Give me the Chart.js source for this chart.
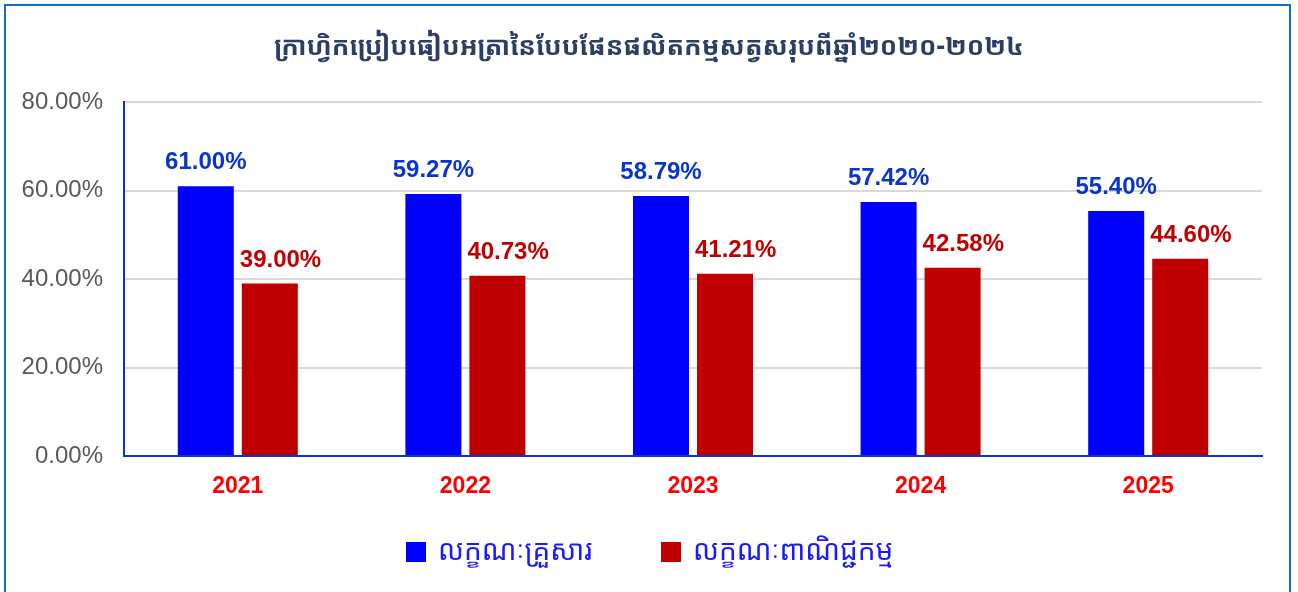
<!DOCTYPE html>
<html>
<head>
<meta charset="utf-8">
<script src="https://cdn.jsdelivr.net/npm/chart.js@4.4.1/dist/chart.umd.min.js"></script>
<style>
  html, body { margin: 0; padding: 0; background: #fff; }
  #wrap { position: relative; width: 1298px; height: 592px; overflow: hidden; }
  #frame { position: absolute; left: 4px; top: 4px; width: 1283px; height: 640px; border: 2px solid #1070c8; pointer-events: none; }
  canvas { position: absolute; left: 0; top: 0; }
</style>
</head>
<body>
<div id="wrap">
  <canvas id="chart" width="1298" height="592"></canvas>
  <div id="frame"></div>
</div>
<script>
const years = ['2021', '2022', '2023', '2024', '2025'];
const familyValues = [61.00, 59.27, 58.79, 57.42, 55.40];
const commercialValues = [39.00, 40.73, 41.21, 42.58, 44.60];
const seriesNames = ['លក្ខណៈគ្រួសារ', 'លក្ខណៈពាណិជ្ជកម្ម'];
const chartTitle = 'ក្រាហ្វិកប្រៀបធៀបអត្រានៃបែបផែនផលិតកម្មសត្វសរុបពីឆ្នាំ២០២០-២០២៤';
const yTicks = [0, 20, 40, 60, 80];

const khmerFont = '"Khmer OS Battambang", "Khmer OS", "Noto Sans Khmer", "Noto Serif Khmer", "Khmer OS System", sans-serif';
const latinFont = '"Liberation Sans", Arial, sans-serif';

// value labels above each bar
const barLabels = {
  id: 'barLabels',
  afterDatasetsDraw(chart) {
    const ctx = chart.ctx;
    ctx.save();
    ctx.textBaseline = 'alphabetic';
    ctx.font = 'bold 24px ' + latinFont;
    chart.data.datasets.forEach((ds, i) => {
      const meta = chart.getDatasetMeta(i);
      ctx.fillStyle = ds.labelColor;
      meta.data.forEach((bar, j) => {
        const txt = ds.data[j].toFixed(2) + '%';
        if (i === 0) {
          ctx.textAlign = 'center';
          ctx.fillText(txt, bar.x, bar.y - 17);
        } else {
          // second series label starts at the bar's left edge
          ctx.textAlign = 'left';
          ctx.fillText(txt, bar.x - bar.width / 2 - 2, bar.y - 17);
        }
      });
    });
    ctx.restore();
  }
};

// legend drawn under the axis
const bottomLegend = {
  id: 'bottomLegend',
  afterDraw(chart) {
    const ctx = chart.ctx;
    const box = 20, gap = 12;
    const mid = chart.width / 2;
    const starts = [mid - 243, mid + 12];
    const cy = 552;
    ctx.save();
    ctx.font = '28px ' + khmerFont;
    ctx.textBaseline = 'middle';
    chart.data.datasets.forEach((ds, i) => {
      const x = starts[i];
      ctx.fillStyle = ds.backgroundColor;
      ctx.fillRect(x, cy - box / 2, box, box);
      ctx.fillStyle = '#1a1aff';
      ctx.fillText(ds.label, x + box + gap, cy);
    });
    ctx.restore();
  }
};

new Chart(document.getElementById('chart'), {
  type: 'bar',
  data: {
    labels: years,
    datasets: [{
      label: seriesNames[0],
      data: familyValues,
      backgroundColor: '#0000ff',
      labelColor: '#0a35cc'
    }, {
      label: seriesNames[1],
      data: commercialValues,
      backgroundColor: '#c00000',
      labelColor: '#c00000'
    }]
  },
  options: {
    responsive: false,
    animation: false,
    categoryPercentage: 0.5625,
    barPercentage: 0.875,
    layout: { padding: 0 },
    plugins: {
      legend: { display: false },
      tooltip: { enabled: false },
      title: {
        display: true,
        text: chartTitle,
        color: '#2d3e66',
        font: { family: khmerFont, size: 26, weight: 'bold', lineHeight: 1.2 },
        padding: { top: 32, bottom: 39 }
      }
    },
    scales: {
      x: {
        grid: { display: false, drawTicks: false },
        border: { display: true, color: '#0a35cc', width: 2 },
        ticks: { color: '#ff0000', font: { family: latinFont, size: 23, weight: 'bold' }, padding: 17 },
        afterFit(scale) { scale.height = 136; }
      },
      y: {
        min: 0,
        max: 80,
        afterBuildTicks(scale) { scale.ticks = yTicks.map(v => ({ value: v })); },
        grid: { color: '#d9d9d9', lineWidth: 2, drawTicks: false },
        border: { display: true, color: '#0a35cc', width: 2 },
        ticks: {
          color: '#595959',
          font: { family: latinFont, size: 24 },
          padding: 21,
          callback: v => v.toFixed(2) + '%'
        },
        afterFit(scale) { scale.width = 124; }
      },
      // empty right-hand spacer so the plot ends where the reference does
      spacer: {
        position: 'right',
        min: 0,
        max: 80,
        grid: { display: false, drawTicks: false },
        border: { display: false },
        ticks: { display: false },
        afterFit(scale) { scale.width = 36; }
      }
    }
  },
  plugins: [barLabels, bottomLegend]
});
</script>
</body>
</html>
